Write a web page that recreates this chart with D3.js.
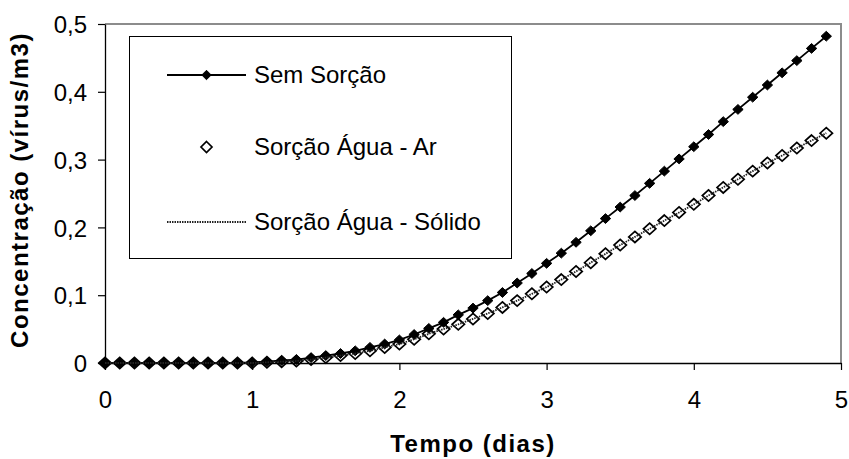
<!DOCTYPE html>
<html>
<head>
<meta charset="utf-8">
<script src="https://cdn.jsdelivr.net/npm/d3@7"></script>
<style>
  html, body { margin: 0; padding: 0; background: #fff; }
  svg { display: block; font-family: "Liberation Sans", Arial, sans-serif; }
</style>
</head>
<body>
<svg id="chart" width="849" height="459"></svg>
<script>
// Tempo (dias)
const days = [
  0.0, 0.1, 0.2, 0.3, 0.4, 0.5, 0.6, 0.7, 0.8, 0.9,
  1.0, 1.1, 1.2, 1.3, 1.4, 1.5, 1.6, 1.7, 1.8, 1.9,
  2.0, 2.1, 2.2, 2.3, 2.4, 2.5, 2.6, 2.7, 2.8, 2.9,
  3.0, 3.1, 3.2, 3.3, 3.4, 3.5, 3.6, 3.7, 3.8, 3.9,
  4.0, 4.1, 4.2, 4.3, 4.4, 4.5, 4.6, 4.7, 4.8, 4.9
];

// Concentração (vírus/m3)
const semSorcao = [
  0, 0, 0, 0, 0, 0, 0, 0, 0, 0,
  0.001, 0.002, 0.004, 0.005, 0.008, 0.011, 0.014, 0.018, 0.023, 0.028,
  0.034, 0.042, 0.051, 0.060, 0.071, 0.081, 0.092, 0.104, 0.118, 0.132,
  0.147, 0.162, 0.178, 0.195, 0.213, 0.230, 0.247, 0.265, 0.283, 0.301,
  0.319, 0.337, 0.356, 0.374, 0.392, 0.410, 0.428, 0.446, 0.464, 0.482
];

const sorcaoAguaAr = [
  0, 0, 0, 0, 0, 0, 0, 0, 0, 0,
  0, 0.001, 0.002, 0.003, 0.005, 0.008, 0.011, 0.014, 0.018, 0.023,
  0.028, 0.035, 0.043, 0.050, 0.057, 0.065, 0.073, 0.082, 0.092, 0.102,
  0.112, 0.123, 0.135, 0.148, 0.161, 0.174, 0.186, 0.198, 0.210, 0.222,
  0.234, 0.247, 0.259, 0.271, 0.283, 0.295, 0.306, 0.317, 0.328, 0.339
];

const sorcaoAguaSolido = [
  0, 0, 0, 0, 0, 0, 0, 0, 0, 0,
  0, 0.001, 0.002, 0.003, 0.005, 0.008, 0.011, 0.014, 0.018, 0.023,
  0.028, 0.035, 0.043, 0.050, 0.057, 0.065, 0.073, 0.082, 0.092, 0.102,
  0.112, 0.123, 0.135, 0.148, 0.161, 0.174, 0.186, 0.198, 0.210, 0.222,
  0.234, 0.247, 0.259, 0.271, 0.283, 0.295, 0.306, 0.317, 0.328, 0.339
];

const seriesNames = ["Sem Sorção", "Sorção Água - Ar", "Sorção Água - Sólido"];

const xTicks = [0, 1, 2, 3, 4, 5];
const xTickLabels = ["0", "1", "2", "3", "4", "5"];
const yTicks = [0, 0.1, 0.2, 0.3, 0.4, 0.5];
const yTickLabels = ["0", "0,1", "0,2", "0,3", "0,4", "0,5"];

const xTitle = "Tempo (dias)";
const yTitle = "Concentração (vírus/m3)";

// ---- layout ----
const svg = d3.select("#chart");
const plot = { left: 105, right: 841, top: 24, bottom: 363 };
const FONT = "'Liberation Sans', Arial, sans-serif";

const x = d3.scaleLinear().domain([0, 5]).range([plot.left, plot.right]);
const y = d3.scaleLinear().domain([0, 0.5]).range([plot.bottom, plot.top]);

// plot-area frame (grey on top and right)
svg.append("path")
  .attr("d", `M${plot.left},${plot.top}H${plot.right}V${plot.bottom}`)
  .attr("fill", "none")
  .attr("stroke", "#8c8c8c")
  .attr("stroke-width", 2);

// axes
const xAxis = d3.axisBottom(x)
  .tickValues(xTicks)
  .tickFormat((d, i) => xTickLabels[i])
  .tickSizeInner(7).tickSizeOuter(0);
const gx = svg.append("g").attr("transform", `translate(0,${plot.bottom})`).call(xAxis);
gx.selectAll(".tick text").attr("y", 45).attr("dy", 0);

const yAxis = d3.axisLeft(y)
  .tickValues(yTicks)
  .tickFormat((d, i) => yTickLabels[i])
  .tickSizeInner(7).tickSizeOuter(0).tickPadding(11);
const gy = svg.append("g").attr("transform", `translate(${plot.left},0)`).call(yAxis);
gy.selectAll(".tick text").attr("dy", "0.36em");

[gx, gy].forEach(g => {
  g.select(".domain").attr("stroke", "#000").attr("stroke-width", 1.3);
  g.selectAll(".tick line").attr("stroke", "#000").attr("stroke-width", 1.2);
  g.selectAll(".tick text")
    .attr("fill", "#000")
    .style("font-family", FONT)
    .style("font-size", "24px");
});

// axis titles
svg.append("text")
  .attr("x", (plot.left + plot.right) / 2)
  .attr("y", 452)
  .attr("text-anchor", "middle")
  .style("font-size", "24px")
  .style("font-weight", "bold")
  .style("letter-spacing", "1.5px")
  .text(xTitle);

svg.append("text")
  .attr("transform", `translate(28,190) rotate(-90)`)
  .attr("text-anchor", "middle")
  .style("font-size", "24px")
  .style("font-weight", "bold")
  .style("letter-spacing", "1.5px")
  .text(yTitle);

// ---- series ----
const diamond = (cx, cy, rx, ry) =>
  `M${cx},${cy - ry}L${cx + rx},${cy}L${cx},${cy + ry}L${cx - rx},${cy}Z`;

const lineOf = vals => d3.line()
  .x((d, i) => x(days[i]))
  .y(d => y(d))(vals);

// Sem Sorção: solid line, filled diamonds
svg.append("path")
  .attr("d", lineOf(semSorcao))
  .attr("fill", "none")
  .attr("stroke", "#000")
  .attr("stroke-width", 1.8);

svg.append("g").selectAll("path")
  .data(semSorcao)
  .join("path")
  .attr("d", (d, i) => diamond(x(days[i]), y(d), 5.2, 4.9))
  .attr("fill", "#000")
  .attr("stroke", "#000")
  .attr("stroke-width", 1);

// Sorção Água - Ar: open diamonds, no line
svg.append("g").selectAll("path")
  .data(sorcaoAguaAr)
  .join("path")
  .attr("d", (d, i) => diamond(x(days[i]), y(d), 6.2, 5.6))
  .attr("fill", "none")
  .attr("stroke", "#000")
  .attr("stroke-width", 1.7);

// Sorção Água - Sólido: dotted line, no markers
svg.append("path")
  .attr("d", lineOf(sorcaoAguaSolido))
  .attr("fill", "none")
  .attr("stroke", "#222")
  .attr("stroke-width", 1.8)
  .attr("stroke-dasharray", "1.5,1");

// ---- legend ----
const legend = svg.append("g");
legend.append("rect")
  .attr("x", 129.5).attr("y", 36.5)
  .attr("width", 382).attr("height", 222)
  .attr("fill", "#fff")
  .attr("stroke", "#000")
  .attr("stroke-width", 1);

const rowsY = [75, 147, 222];
const sx0 = 167, sx1 = 246, sxm = 206.5, tx = 254;

// row 1
legend.append("line")
  .attr("x1", sx0).attr("x2", sx1).attr("y1", rowsY[0]).attr("y2", rowsY[0])
  .attr("stroke", "#000").attr("stroke-width", 1.8);
legend.append("path")
  .attr("d", diamond(sxm, rowsY[0], 4.7, 4.7))
  .attr("fill", "#000").attr("stroke", "#000").attr("stroke-width", 1);

// row 2
legend.append("path")
  .attr("d", diamond(sxm, rowsY[1], 5.5, 5.5))
  .attr("fill", "none").attr("stroke", "#000").attr("stroke-width", 1.7);

// row 3
legend.append("line")
  .attr("x1", sx0).attr("x2", sx1).attr("y1", rowsY[2]).attr("y2", rowsY[2])
  .attr("stroke", "#222").attr("stroke-width", 1.8)
  .attr("stroke-dasharray", "1.5,1");

legend.selectAll("text.lbl")
  .data(seriesNames)
  .join("text")
  .attr("class", "lbl")
  .attr("x", tx)
  .attr("y", (d, i) => rowsY[i] + 7.5)
  .style("font-size", "24px")
  .attr("fill", "#000")
  .text(d => d);
</script>
</body>
</html>
